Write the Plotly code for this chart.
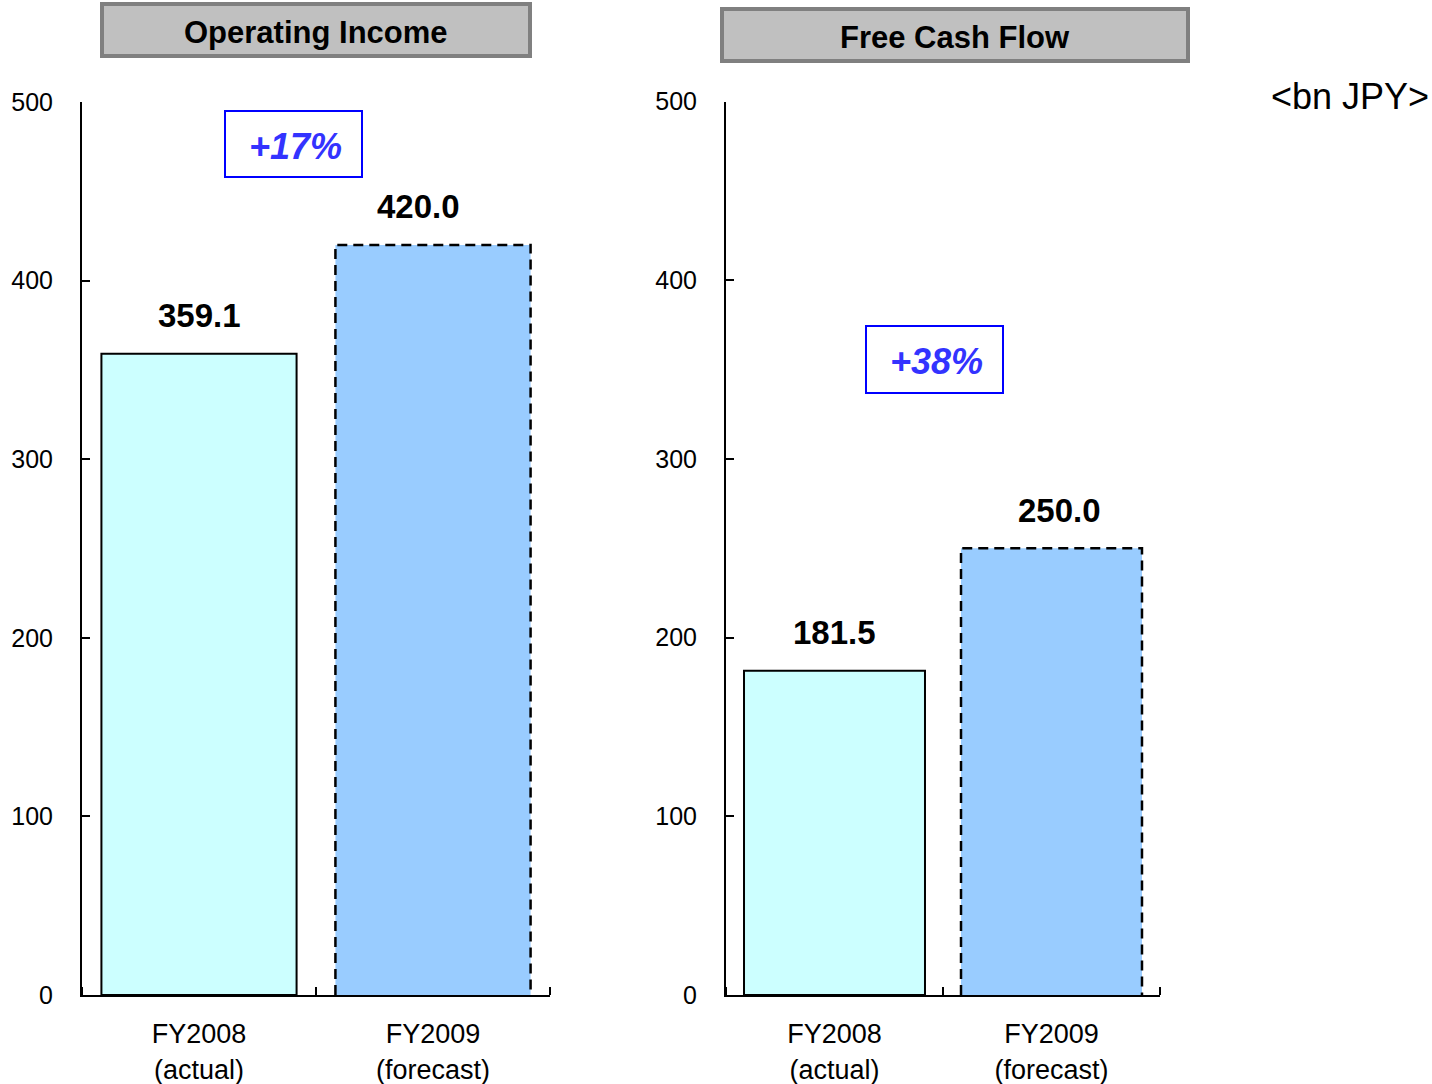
import plotly.graph_objects as go

# --- data -------------------------------------------------------------
categories = ["FY2008<br>(actual)", "FY2009<br>(forecast)"]
operating_income = [359.1, 420.0]
free_cash_flow = [181.5, 250.0]
growth_labels = ["+17%", "+38%"]
panel_titles = ["Operating Income", "Free Cash Flow"]
y_ticks = [0, 100, 200, 300, 400, 500]
unit_label = "&lt;bn JPY&gt;"

# --- styling ----------------------------------------------------------
W, H = 1432, 1084
FONT = "Liberation Sans, Arial, sans-serif"
BAR_COLORS = ["#ccffff", "#99ccff"]
BAR_WIDTH = 0.834
GROWTH_COLOR = "#3333ff"


def px(x):
    return x / W


def py(y):
    return 1 - y / H


fig = go.Figure()

panels = [
    dict(values=operating_income, xa="x", ya="y", label_shift=[0, -15]),
    dict(values=free_cash_flow, xa="x2", ya="y2", label_shift=[0, 8]),
]

xs = list(range(len(categories)))
for p in panels:
    vals = p["values"]
    # actual year: solid outline; forecast year: outline drawn dashed below
    fig.add_trace(go.Bar(
        x=xs, y=vals, width=BAR_WIDTH, xaxis=p["xa"], yaxis=p["ya"],
        marker=dict(color=BAR_COLORS, line=dict(color="black", width=[2, 0])),
        showlegend=False, hoverinfo="skip",
    ))
    i = 1
    half = BAR_WIDTH / 2
    fig.add_trace(go.Scatter(
        x=[i - half, i - half, i + half, i + half],
        y=[0, vals[i], vals[i], 0],
        mode="lines", xaxis=p["xa"], yaxis=p["ya"],
        line=dict(color="black", width=2.5, dash="10px,6px"),
        showlegend=False, hoverinfo="skip",
    ))
    for k, v in enumerate(vals):
        fig.add_annotation(
            x=k, y=v, xref=p["xa"], yref=p["ya"], text=f"<b>{v:.1f}</b>",
            showarrow=False, yshift=38, xshift=p["label_shift"][k],
            font=dict(family=FONT, size=33, color="black"),
        )

axis_common = dict(
    showgrid=False, zeroline=False, showline=True, linecolor="black",
    linewidth=2, automargin=False,
)
yaxis_common = dict(
    axis_common, range=[0, 500], tickvals=y_ticks, ticks="inside",
    ticklen=8, tickwidth=2, tickcolor="black", ticklabelstandoff=22,
    tickfont=dict(family=FONT, size=25, color="black"),
)
xaxis_common = dict(
    axis_common, range=[-0.5, 1.5], tickvals=xs, ticktext=categories,
    ticks="", ticklabelstandoff=14,
    tickfont=dict(family=FONT, size=27, color="black"),
    minor=dict(tickvals=[-0.5, 0.5, 1.5], ticks="inside", ticklen=8,
               tickwidth=2, tickcolor="black"),
)

fig.update_layout(
    width=W, height=H, autosize=False,
    margin=dict(l=0, r=0, t=0, b=0, pad=0, autoexpand=False),
    paper_bgcolor="white", plot_bgcolor="white",
    xaxis=dict(xaxis_common, domain=[px(82), px(550)], anchor="y"),
    yaxis=dict(yaxis_common, domain=[py(995), py(102)], anchor="x"),
    xaxis2=dict(xaxis_common, domain=[px(726), px(1160)], anchor="y2"),
    yaxis2=dict(yaxis_common, domain=[py(995), py(101.5)], anchor="x2"),
)

# panel title boxes
title_boxes = [(102, 4, 530, 56), (722, 9, 1188, 61)]
for (x0, y0, x1, y1), t in zip(title_boxes, panel_titles):
    fig.add_shape(type="rect", xref="paper", yref="paper",
                  x0=px(x0), x1=px(x1), y0=py(y1), y1=py(y0),
                  fillcolor="#c0c0c0", line=dict(color="#808080", width=4))
    fig.add_annotation(x=px((x0 + x1) / 2), y=py((y0 + y1) / 2 + 3),
                       xref="paper", yref="paper", text=f"<b>{t}</b>",
                       showarrow=False, xanchor="center", yanchor="middle",
                       font=dict(family=FONT, size=31, color="black"))

# growth boxes
growth_boxes = [(225, 111, 362, 177), (866, 326, 1003, 393)]
for (x0, y0, x1, y1), t in zip(growth_boxes, growth_labels):
    fig.add_shape(type="rect", xref="paper", yref="paper",
                  x0=px(x0), x1=px(x1), y0=py(y1), y1=py(y0),
                  fillcolor="white", line=dict(color="#0000ff", width=2))
    fig.add_annotation(x=px((x0 + x1) / 2 + 2), y=py((y0 + y1) / 2 + 2),
                       xref="paper", yref="paper", text=f"<b><i>{t}</i></b>",
                       showarrow=False, xanchor="center", yanchor="middle",
                       font=dict(family=FONT, size=36, color=GROWTH_COLOR))

# unit label
fig.add_annotation(x=px(1431), y=py(96), xref="paper", yref="paper",
                   text=unit_label, showarrow=False, xanchor="right",
                   yanchor="middle",
                   font=dict(family=FONT, size=36, color="black"))

fig.write_html("out.html")
